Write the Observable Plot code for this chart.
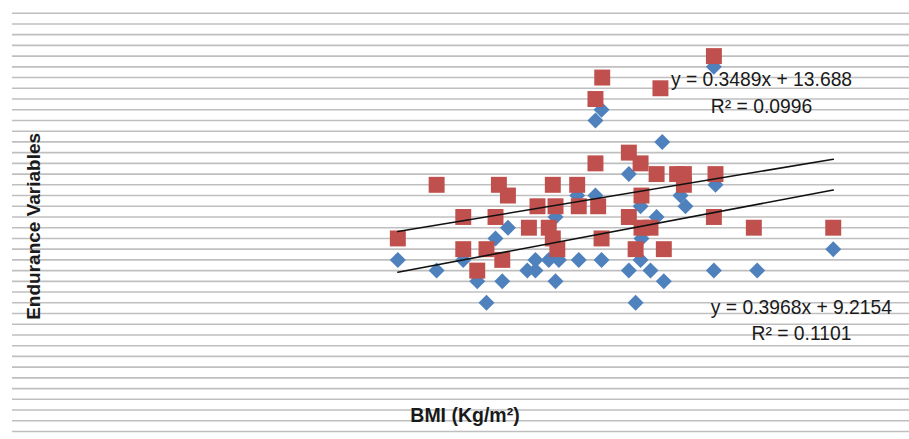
<!DOCTYPE html>
<html><head><meta charset="utf-8">
<script src="https://cdn.jsdelivr.net/npm/d3@7"></script>
<script src="https://cdn.jsdelivr.net/npm/@observablehq/plot@0.6"></script>
<style>body{margin:0;background:#fff} svg{display:block}</style>
</head><body><div id="chart"></div>
<script>
// Series 1 (blue diamonds)
const blueBMI    = [14.20,15.92,17.10,17.72,18.13,18.83,18.53,19.08,19.94,20.30,20.30,20.89,21.34,22.22,23.23,21.19,20.89,21.19,22.15,22.96,24.44,24.96,25.67,25.00,24.96,24.44,25.40,25.99,24.74,25.92,23.23,22.96,28.21,26.73,26.95,28.28,28.21,30.13,33.50];
const blueValues = [16,   15,   16,   14,   12,   14,   18,   19,   15,   16,   15,   16,   16,   16,   16,   14,   19,   20,   22,   22,   24,   21,   20,   18,   16,   15,   15,   14,   12,   27,   30,   29,   34,   22,   21,   23,   15,   15,   17];
// Series 2 (red squares)
const redBMI    = [14.20,15.92,17.10,17.10,17.72,18.13,18.53,18.83,18.68,19.08,20.01,20.39,21.19,20.89,21.07,21.27,21.07,22.15,22.22,23.08,23.23,22.96,23.26,22.96,25.84,28.21,24.44,24.96,25.67,25.00,24.44,25.00,25.40,24.74,25.99,26.58,26.88,26.88,28.28,28.21,29.98,33.50];
const redValues = [18,   23,   20,   17,   15,   17,   20,   16,   23,   22,   19,   21,   21,   19,   18,   17,   23,   23,   21,   21,   18,   25,   33,   31,   32,   35,   26,   25,   24,   22,   20,   19,   19,   17,   17,   24,   24,   23,   24,   20,   19,   19];
// Linear trendlines (Excel) : [blue, red]
const trendSlopes     = [0.3968, 0.3489];
const trendIntercepts = [9.2154, 13.688];
const equationLabels  = ["y = 0.3968x + 9.2154", "y = 0.3489x + 13.688"];
const r2Labels        = ["R² = 0.1101", "R² = 0.0996"];
const labelBMI        = [32.09, 30.32];
const labelEqValue    = [11.56, 32.82];
const labelR2Value    = [9.14, 30.30];
const gridValues = d3.range(0, 40);
const xTitle = "BMI (Kg/m²)";
const yTitle = "Endurance Variables";

const blue = blueBMI.map((x, i) => ({x, y: blueValues[i]}));
const red  = redBMI.map((x, i) => ({x, y: redValues[i]}));
const trend = (pts, k) => {
  const [x0, x1] = d3.extent(pts, d => d.x);
  return [x0, x1].map(x => ({x, y: trendSlopes[k] * x + trendIntercepts[k]}));
};
const labels = [];
labelBMI.forEach((x, k) => {
  labels.push({x, y: labelEqValue[k], t: equationLabels[k]});
  labels.push({x, y: labelR2Value[k], t: r2Labels[k]});
});

const chart = Plot.plot({
  width: 909, height: 439,
  marginLeft: 12, marginRight: 0, marginTop: 12.7, marginBottom: 8,
  x: {domain: [-2.88, 36.88], axis: null},
  y: {domain: [0, 39], axis: null},
  style: {fontFamily: "'Liberation Sans', Arial, sans-serif", background: "#fff"},
  marks: [
    Plot.ruleY(gridValues, {stroke: "#bfbfbf", strokeWidth: 1.6}),
    Plot.dot(blue, {x: "x", y: "y", symbol: "diamond2", r: 7.2, fill: "#4F81BD", stroke: "none"}),
    Plot.dot(red, {x: "x", y: "y", symbol: "square", r: 9, fill: "#C0504D", stroke: "none"}),
    Plot.line(trend(blue, 0), {x: "x", y: "y", stroke: "#111", strokeWidth: 1.6}),
    Plot.line(trend(red, 1), {x: "x", y: "y", stroke: "#111", strokeWidth: 1.6}),
    Plot.text(labels, {x: "x", y: "y", text: "t", fontSize: 19.3, fill: "#1a1a1a"}),
    Plot.text([yTitle], {frameAnchor: "left", textAnchor: "middle", dx: 21, dy: 4, rotate: -90, text: d => d, fontSize: 19, fontWeight: "bold", fill: "#1a1a1a"}),
    Plot.text([xTitle], {frameAnchor: "bottom", textAnchor: "middle", dx: 4, dy: -10, text: d => d, fontSize: 19.5, fontWeight: "bold", fill: "#1a1a1a"})
  ]
});
document.getElementById("chart").appendChild(chart);
</script>
</body></html>
